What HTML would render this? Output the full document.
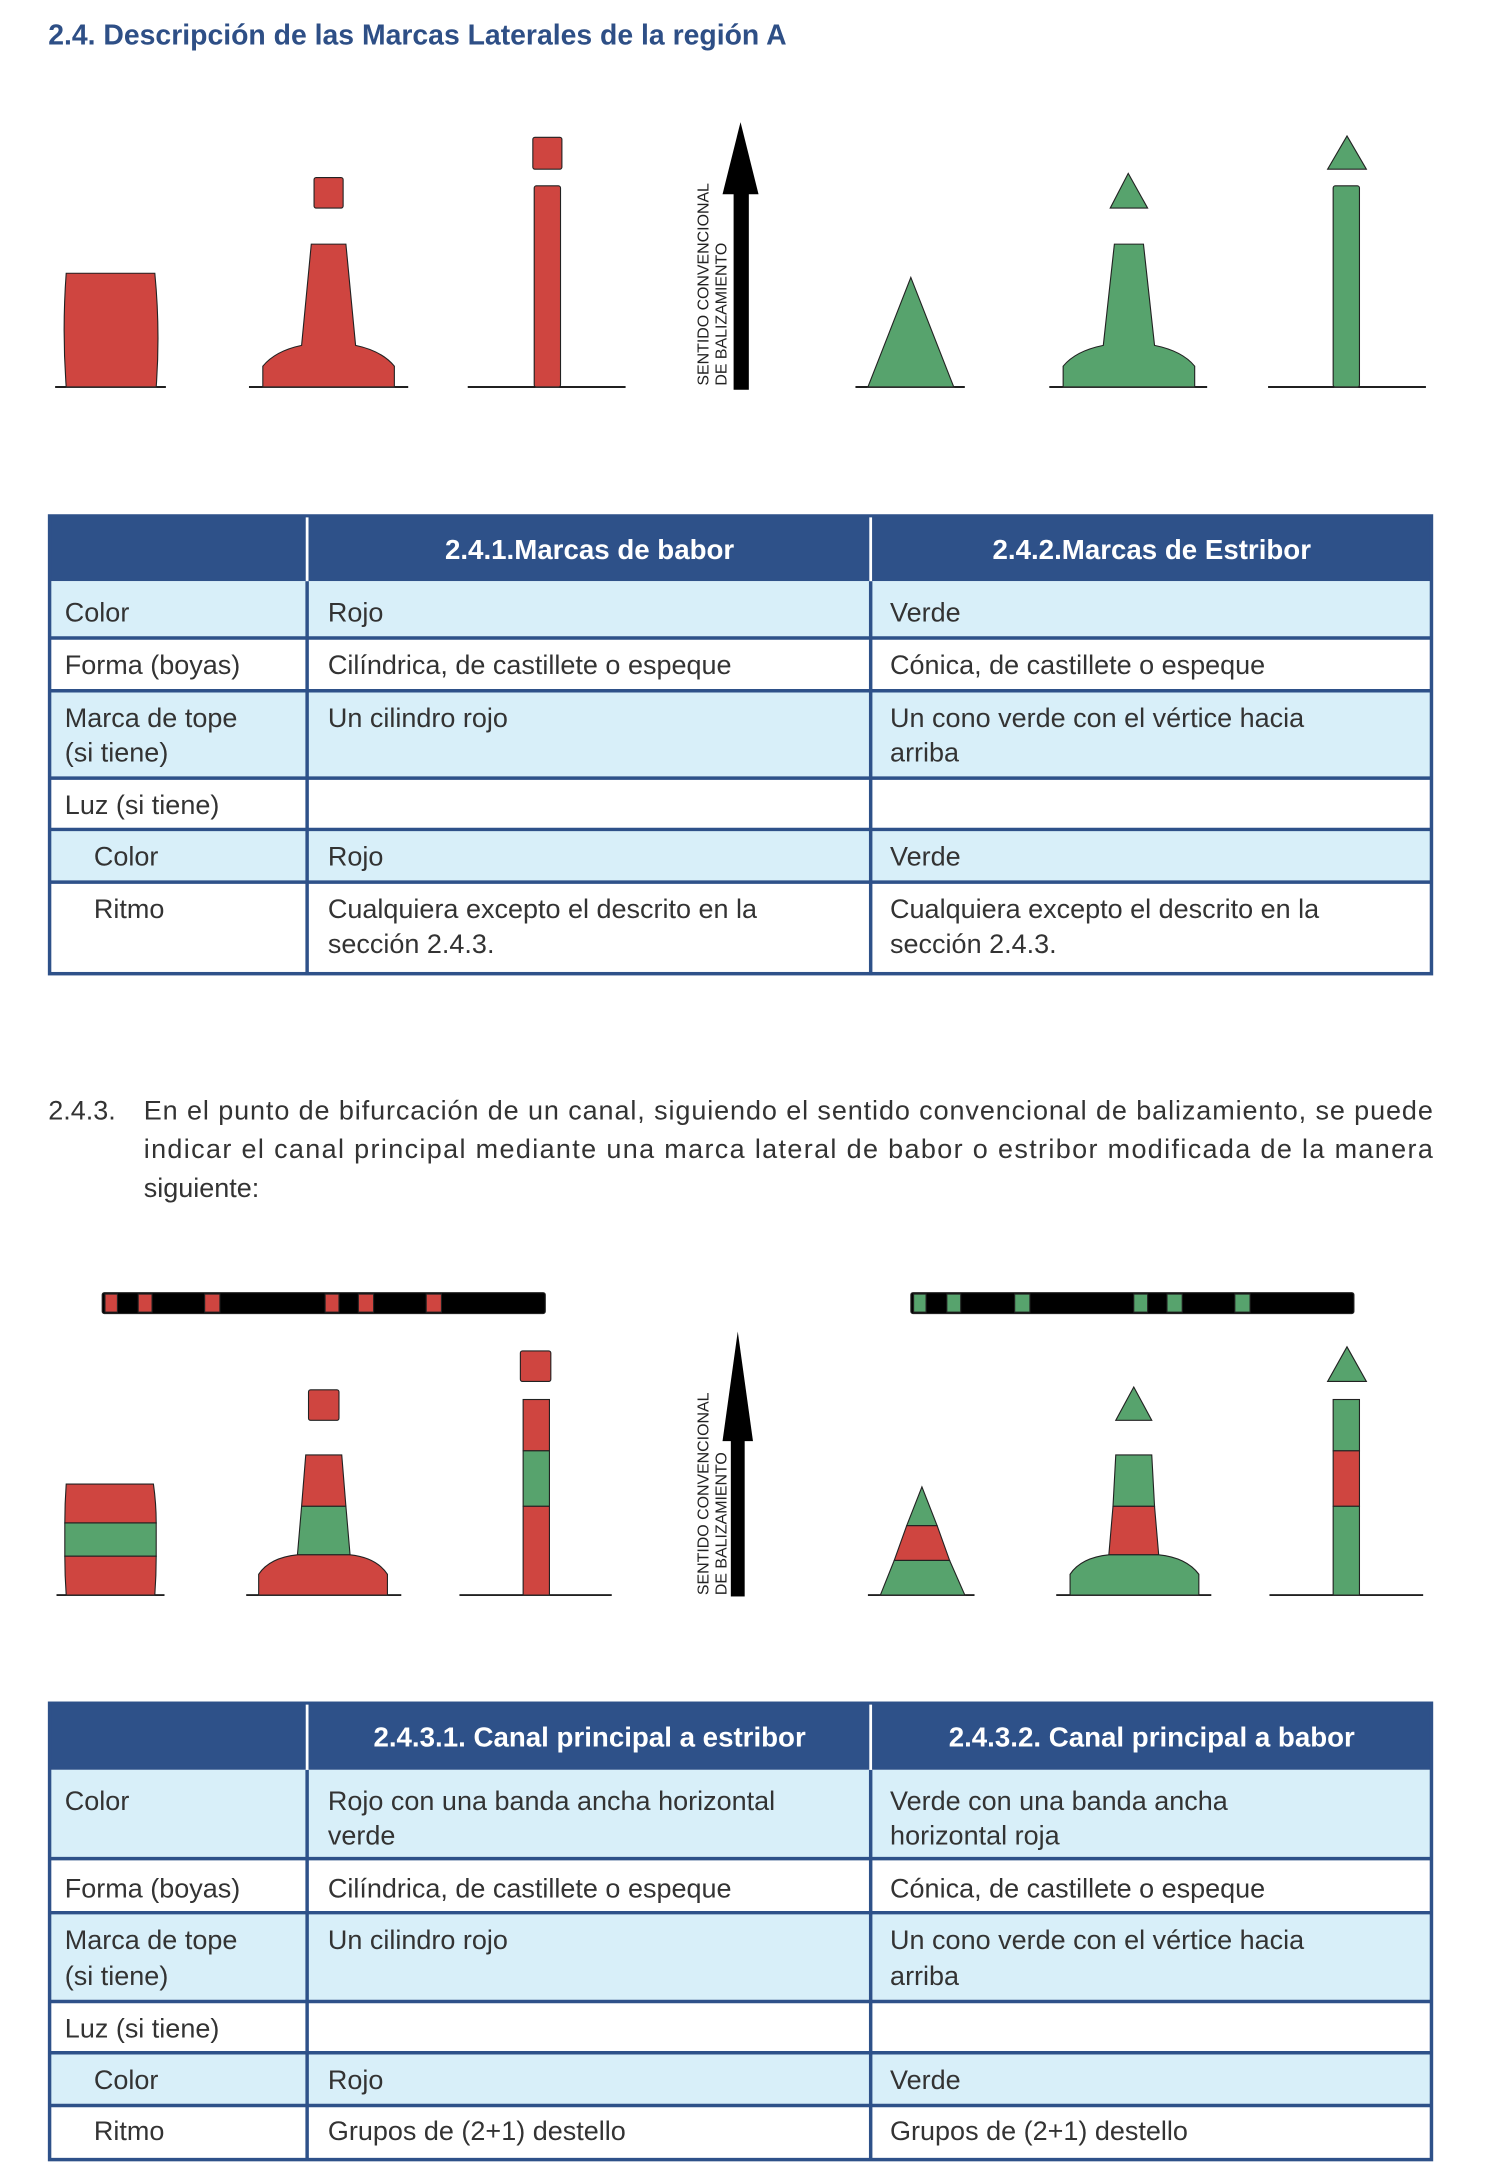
<!DOCTYPE html>
<html><head><meta charset="utf-8"><style>
html,body{margin:0;padding:0;background:#fff}
svg{display:block}
text{font-family:"Liberation Sans",sans-serif}
.t{font-size:19.5px;fill:#333}
.h{font-size:20px;fill:#fff;font-weight:bold}
</style></head><body>
<svg width="1504" height="2172" viewBox="0 0 1080 1560" xmlns="http://www.w3.org/2000/svg">
<g transform="translate(-0.3,1) scale(0.9945,0.9962)">
<text x="35" y="31" font-size="20.5" font-weight="bold" fill="#2e4f86">2.4.  Descripción de las Marcas Laterales de la región A</text>

<g stroke="#222" stroke-width="0.8">
 <g stroke="#000" stroke-width="1.2">
  <line x1="40" y1="278" x2="120" y2="278"/><line x1="180" y1="278" x2="295" y2="278"/><line x1="338" y1="278" x2="452" y2="278"/>
  <line x1="618" y1="278" x2="697" y2="278"/><line x1="758" y1="278" x2="872" y2="278"/><line x1="916" y1="278" x2="1030" y2="278"/>
 </g>
 <path d="M48 196 L112 196 Q116 237 113 278 L48 278 Q45 237 48 196Z" fill="#cf4540"/>
 <path d="M225 175 L250 175 L257 248 Q276 252 285 263 L285 278 L190 278 L190 263 Q199 252 218 248Z" fill="#cf4540"/>
 <rect x="227" y="127" width="21" height="22" rx="1.5" fill="#cf4540"/>
 <rect x="386" y="133" width="19" height="145" rx="1.5" fill="#cf4540"/>
 <rect x="385" y="98" width="21" height="23" rx="1.5" fill="#cf4540"/>
 <path d="M658 199 L689 278 L627 278Z" fill="#57a36d"/>
 <path d="M805 175 L826 175 L834 248 Q854 252 863 263 L863 278 L768 278 L768 263 Q777 252 797 248Z" fill="#57a36d"/>
 <path d="M815 124 L829 149 L802 149Z" fill="#57a36d"/>
 <rect x="963" y="133" width="19" height="145" rx="1.5" fill="#57a36d"/>
 <path d="M973 97 L987 121 L959 121Z" fill="#57a36d"/>
</g>
<g>
 <rect x="530" y="137" width="11" height="143" fill="#000"/>
 <path d="M535 87 L548 139 L522 139Z" fill="#000"/>
 <text x="0" y="0" font-size="11.5" fill="#222" textLength="146" lengthAdjust="spacingAndGlyphs" transform="translate(512 277) rotate(-90)">SENTIDO CONVENCIONAL</text>
 <text x="0" y="0" font-size="11.5" fill="#222" textLength="103" lengthAdjust="spacingAndGlyphs" transform="translate(525 277) rotate(-90)">DE BALIZAMIENTO</text>
</g>

<g>
 <rect x="35" y="370" width="1000" height="48" fill="#2e5189"/>
 <rect x="35" y="418" width="1000" height="41" fill="#d8eff9"/>
 <rect x="35" y="497" width="1000" height="63" fill="#d8eff9"/>
 <rect x="35" y="597" width="1000" height="38" fill="#d8eff9"/>
 <g stroke="#2e5189" stroke-width="2.5" fill="none">
  <rect x="36" y="371" width="998" height="330"/>
  <line x1="35" y1="459" x2="1035" y2="459"/><line x1="35" y1="497" x2="1035" y2="497"/>
  <line x1="35" y1="560" x2="1035" y2="560"/><line x1="35" y1="597" x2="1035" y2="597"/>
  <line x1="35" y1="635" x2="1035" y2="635"/>
  <line x1="222" y1="418" x2="222" y2="702"/><line x1="629" y1="418" x2="629" y2="702"/>
 </g>
 <line x1="222" y1="372" x2="222" y2="418" stroke="#fff" stroke-width="2"/>
 <line x1="629" y1="372" x2="629" y2="418" stroke="#fff" stroke-width="2"/>
 <text class="h" x="426" y="402" text-anchor="middle">2.4.1.Marcas de babor</text>
 <text class="h" x="832" y="402" text-anchor="middle">2.4.2.Marcas de Estribor</text>
 <text class="t" x="47" y="447">Color</text><text class="t" x="237" y="447">Rojo</text><text class="t" x="643" y="447">Verde</text>
 <text class="t" x="47" y="485">Forma (boyas)</text><text class="t" x="237" y="485">Cilíndrica, de castillete o espeque</text><text class="t" x="643" y="485">Cónica, de castillete o espeque</text>
 <text class="t" x="47" y="523">Marca de tope</text><text class="t" x="47" y="548">(si tiene)</text><text class="t" x="237" y="523">Un cilindro rojo</text><text class="t" x="643" y="523">Un cono verde con el vértice hacia</text><text class="t" x="643" y="548">arriba</text>
 <text class="t" x="47" y="586">Luz (si tiene)</text>
 <text class="t" x="68" y="623">Color</text><text class="t" x="237" y="623">Rojo</text><text class="t" x="643" y="623">Verde</text>
 <text class="t" x="68" y="661">Ritmo</text><text class="t" x="237" y="661">Cualquiera excepto el descrito en la</text><text class="t" x="237" y="686">sección 2.4.3.</text><text class="t" x="643" y="661">Cualquiera excepto el descrito en la</text><text class="t" x="643" y="686">sección 2.4.3.</text>
</g>

<g>
 <text class="t" x="35" y="806">2.4.3.</text>
 <text class="t" x="104" y="806" textLength="931" lengthAdjust="spacing">En el punto de bifurcación de un canal, siguiendo el sentido convencional de balizamiento, se puede</text>
 <text class="t" x="104" y="834" textLength="931" lengthAdjust="spacing">indicar el canal principal mediante una marca lateral de babor o estribor modificada de la manera</text>
 <text class="t" x="104" y="862">siguiente:</text>
</g>

<g stroke="#222" stroke-width="0.8">
 <g>
  <rect x="74" y="931" width="320" height="15" rx="1.5" fill="#000"/>
  <rect x="76" y="932" width="9" height="13" fill="#cf4540"/><rect x="100" y="932" width="10" height="13" fill="#cf4540"/><rect x="148" y="932" width="11" height="13" fill="#cf4540"/>
  <rect x="235" y="932" width="10" height="13" fill="#cf4540"/><rect x="259" y="932" width="11" height="13" fill="#cf4540"/><rect x="308" y="932" width="11" height="13" fill="#cf4540"/>
 </g>
 <g>
  <rect x="658" y="931" width="320" height="15" rx="1.5" fill="#000"/>
  <rect x="660" y="932" width="9" height="13" fill="#57a36d"/><rect x="684" y="932" width="10" height="13" fill="#57a36d"/><rect x="733" y="932" width="11" height="13" fill="#57a36d"/>
  <rect x="819" y="932" width="10" height="13" fill="#57a36d"/><rect x="843" y="932" width="11" height="13" fill="#57a36d"/><rect x="892" y="932" width="11" height="13" fill="#57a36d"/>
 </g>
 <g stroke="#000" stroke-width="1.2">
  <line x1="41" y1="1149" x2="119" y2="1149"/><line x1="178" y1="1149" x2="290" y2="1149"/><line x1="332" y1="1149" x2="442" y2="1149"/>
  <line x1="627" y1="1149" x2="704" y2="1149"/><line x1="763" y1="1149" x2="875" y2="1149"/><line x1="917" y1="1149" x2="1028" y2="1149"/>
 </g>
 <g>
  <path d="M48 1069 L111 1069 Q113 1083 113 1097 L47 1097 Q47 1083 48 1069Z" fill="#cf4540"/>
  <rect x="47" y="1097" width="66" height="24" fill="#57a36d"/>
  <path d="M47 1121 L113 1121 Q113 1135 112 1149 L48 1149 Q47 1135 47 1121Z" fill="#cf4540"/>
 </g>
 <g>
  <path d="M221 1048 L247 1048 L250 1085 L218 1085Z" fill="#cf4540"/>
  <path d="M218 1085 L250 1085 L253 1120 L215 1120Z" fill="#57a36d"/>
  <path d="M215 1120 L253 1120 Q272 1122 280 1134 L280 1149 L187 1149 L187 1134 Q195 1122 215 1120Z" fill="#cf4540"/>
  <rect x="223" y="1001" width="22" height="22" rx="1.5" fill="#cf4540"/>
 </g>
 <g>
  <rect x="378" y="1008" width="19" height="37" fill="#cf4540"/><rect x="378" y="1045" width="19" height="40" fill="#57a36d"/><rect x="378" y="1085" width="19" height="64" fill="#cf4540"/>
  <rect x="376" y="973" width="22" height="22" rx="1.5" fill="#cf4540"/>
 </g>
 <g>
  <path d="M666 1071 L677 1099 L655 1099Z" fill="#57a36d"/>
  <path d="M655 1099 L677 1099 L686 1124 L646 1124Z" fill="#cf4540"/>
  <path d="M646 1124 L686 1124 L697 1149 L636 1149Z" fill="#57a36d"/>
 </g>
 <g>
  <path d="M806 1048 L832 1048 L834 1085 L804 1085Z" fill="#57a36d"/>
  <path d="M804 1085 L834 1085 L837 1120 L801 1120Z" fill="#cf4540"/>
  <path d="M801 1120 L837 1120 Q857 1122 866 1134 L866 1149 L773 1149 L773 1134 Q781 1122 801 1120Z" fill="#57a36d"/>
  <path d="M819 999 L832 1023 L806 1023Z" fill="#57a36d"/>
 </g>
 <g>
  <rect x="963" y="1008" width="19" height="37" fill="#57a36d"/><rect x="963" y="1045" width="19" height="40" fill="#cf4540"/><rect x="963" y="1085" width="19" height="64" fill="#57a36d"/>
  <path d="M973 970 L987 995 L959 995Z" fill="#57a36d"/>
 </g>
</g>
<g>
 <rect x="528" y="1036" width="10" height="114" fill="#000"/>
 <path d="M533 959 L544 1038 L522 1038Z" fill="#000"/>
 <text x="0" y="0" font-size="11.5" fill="#222" textLength="146" lengthAdjust="spacingAndGlyphs" transform="translate(512 1149) rotate(-90)">SENTIDO CONVENCIONAL</text>
 <text x="0" y="0" font-size="11.5" fill="#222" textLength="103" lengthAdjust="spacingAndGlyphs" transform="translate(525 1149) rotate(-90)">DE BALIZAMIENTO</text>
</g>

<g>
 <rect x="35" y="1226" width="1000" height="49" fill="#2e5189"/>
 <rect x="35" y="1275" width="1000" height="64" fill="#d8eff9"/>
 <rect x="35" y="1378" width="1000" height="64" fill="#d8eff9"/>
 <rect x="35" y="1479" width="1000" height="38" fill="#d8eff9"/>
 <g stroke="#2e5189" stroke-width="2.5" fill="none">
  <rect x="36" y="1227" width="998" height="329"/>
  <line x1="35" y1="1339" x2="1035" y2="1339"/><line x1="35" y1="1378" x2="1035" y2="1378"/>
  <line x1="35" y1="1442" x2="1035" y2="1442"/><line x1="35" y1="1479" x2="1035" y2="1479"/>
  <line x1="35" y1="1517" x2="1035" y2="1517"/>
  <line x1="222" y1="1275" x2="222" y2="1557"/><line x1="629" y1="1275" x2="629" y2="1557"/>
 </g>
 <line x1="222" y1="1228" x2="222" y2="1275" stroke="#fff" stroke-width="2"/>
 <line x1="629" y1="1228" x2="629" y2="1275" stroke="#fff" stroke-width="2"/>
 <text class="h" x="426" y="1258" text-anchor="middle">2.4.3.1. Canal principal a estribor</text>
 <text class="h" x="832" y="1258" text-anchor="middle">2.4.3.2. Canal principal a babor</text>
 <text class="t" x="47" y="1304">Color</text><text class="t" x="237" y="1304">Rojo con una banda ancha horizontal</text><text class="t" x="237" y="1329">verde</text><text class="t" x="643" y="1304">Verde con una banda ancha</text><text class="t" x="643" y="1329">horizontal roja</text>
 <text class="t" x="47" y="1367">Forma (boyas)</text><text class="t" x="237" y="1367">Cilíndrica, de castillete o espeque</text><text class="t" x="643" y="1367">Cónica, de castillete o espeque</text>
 <text class="t" x="47" y="1404">Marca de tope</text><text class="t" x="47" y="1430">(si tiene)</text><text class="t" x="237" y="1404">Un cilindro rojo</text><text class="t" x="643" y="1404">Un cono verde con el vértice hacia</text><text class="t" x="643" y="1430">arriba</text>
 <text class="t" x="47" y="1468">Luz (si tiene)</text>
 <text class="t" x="68" y="1505">Color</text><text class="t" x="237" y="1505">Rojo</text><text class="t" x="643" y="1505">Verde</text>
 <text class="t" x="68" y="1542">Ritmo</text><text class="t" x="237" y="1542">Grupos de (2+1) destello</text><text class="t" x="643" y="1542">Grupos de (2+1) destello</text>
</g>
</g>
</svg>
</body></html>
